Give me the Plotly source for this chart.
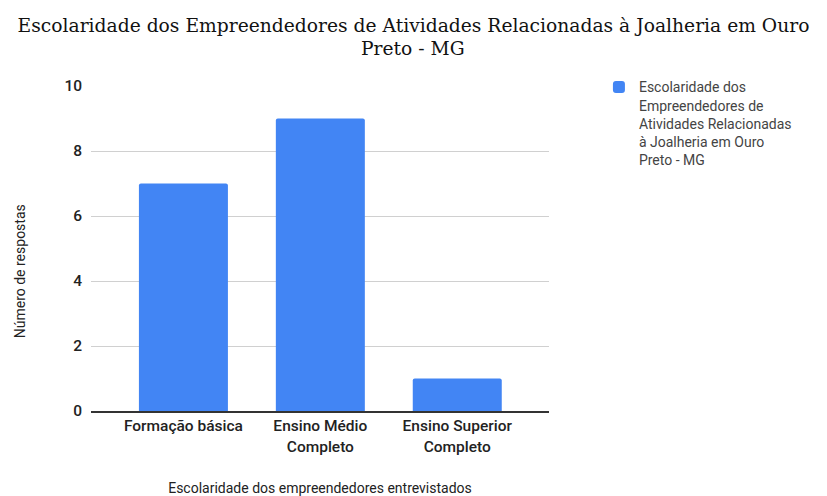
import plotly.graph_objects as go

categories = ["Formação básica", "Ensino Médio<br>Completo", "Ensino Superior<br>Completo"]
values = [7, 9, 1]
series_name = "Escolaridade dos<br>Empreendedores de<br>Atividades Relacionadas<br>à Joalheria em Ouro<br>Preto - MG"
title_line1 = "Escolaridade dos Empreendedores de Atividades Relacionadas à Joalheria em Ouro"
title_line2 = "Preto - MG"
y_ticks = [0, 2, 4, 6, 8, 10]

title_font = dict(family="DejaVu Serif", size=18.7, color="#111")

fig = go.Figure()
fig.add_trace(go.Bar(
    x=[0, 1, 2], y=values, name=series_name,
    marker=dict(color="#4285F4", line=dict(width=0), cornerradius=2),
    width=0.65, showlegend=True,
))

fig.update_layout(
    width=827, height=496,
    margin=dict(l=91, r=278, t=86, b=85),
    paper_bgcolor="white", plot_bgcolor="white",
    title=dict(text=title_line1, x=0.5, xref="container", xanchor="center",
               yref="container", y=1 - 25.5 / 496, yanchor="middle", font=title_font),
    font=dict(family="Roboto", size=14, color="#222"),
    showlegend=True,
    legend=dict(x=1.109, xanchor="left", y=1.045, yanchor="top", valign="top",
                font=dict(family="Roboto", size=14, color="#444"),
                itemsizing="constant", bgcolor="rgba(0,0,0,0)"),
    xaxis=dict(tickmode="array", tickvals=[0, 1, 2], ticktext=categories,
               range=[-0.675, 2.67], showgrid=False, zeroline=False, automargin=False,
               showline=True, linecolor="#333", linewidth=1.5,
               tickfont=dict(family="Roboto", size=15.5, color="#222", weight=500),
               ticks="", title=dict(text="Escolaridade dos empreendedores entrevistados",
                                     font=dict(family="Roboto", size=14, color="#222"),
                                     standoff=47)),
    yaxis=dict(range=[0, 10], tickvals=y_ticks, showgrid=True, gridcolor="#d0d0d0",
               gridwidth=1, zeroline=False, ticks="", ticklabelstandoff=8, automargin=False,
               tickfont=dict(family="Roboto", size=15.5, color="#222", weight=500)),
    annotations=[
        dict(text=title_line2, xref="paper", yref="paper",
             x=(413 - 91) / 458, y=(411 - 48) / 325, xanchor="center", yanchor="middle",
             showarrow=False, font=title_font),
        dict(text="Número de respostas", textangle=-90, xref="paper", yref="paper",
             x=-0.155, y=0.43, xanchor="center", yanchor="middle", showarrow=False,
             font=dict(family="Roboto", size=14, color="#222")),
    ],
)

fig.write_html("out.html")
